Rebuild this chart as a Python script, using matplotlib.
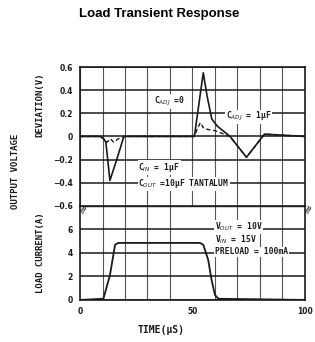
import matplotlib.pyplot as plt

# data
t_v = [0, 9, 10.5, 11.5, 13.3, 16, 19.5, 50.5, 51, 53, 54.8, 56.5, 58.6, 61, 66.7, 74, 82, 100]
v_cadj0 = [0, 0, -0.02, -0.05, -0.38, -0.22, 0, 0, 0.02, 0.3, 0.55, 0.35, 0.15, 0.09, 0.0, -0.18, 0.02, 0]

t_v1 = [0, 9, 10.5, 12, 13.5, 15, 17, 19.5, 51, 52, 53.5, 55, 57, 60, 66.7, 74, 82, 100]
v_cadj1 = [0, 0, -0.02, -0.05, -0.02, -0.05, -0.02, 0, 0, 0.06, 0.12, 0.07, 0.06, 0.05, 0.0, -0.18, 0.02, 0]

t_i = [0, 10.4, 13.3, 15.6, 17, 53.3, 54.8, 57, 58.5, 60, 61.5, 100]
i_load = [0, 0.1, 2.1, 4.7, 4.85, 4.85, 4.7, 3.4, 1.7, 0.43, 0.1, 0]

v_ticks = [-0.6, -0.4, -0.2, 0, 0.2, 0.4, 0.6]
v_ticklabels = ['\u22120.6', '\u22120.4', '\u22120.2', '0', '0.2', '0.4', '0.6']
i_ticks = [0, 2, 4, 6]
x_ticks = [0, 50, 100]

fig = plt.figure(figsize=(3.15, 3.42), dpi=100)
ax_v = fig.add_axes([0.254, 0.398, 0.714, 0.406])
ax_i = fig.add_axes([0.254, 0.123, 0.714, 0.275])

ink = '#1a1a1a'
mono = 'DejaVu Sans Mono'
for ax in (ax_v, ax_i):
    ax.set_xlim(0, 100)
    ax.tick_params(length=0, labelsize=5.5, colors=ink, pad=5)
    for s in ax.spines.values():
        s.set_color(ink)
        s.set_linewidth(1.2)
    ax.set_axisbelow(True)

# voltage deviation
ax_v.set_ylim(-0.6, 0.6)
ax_v.set_xticks(range(0, 101, 10))
ax_v.set_yticks(v_ticks)
ax_v.set_yticklabels(v_ticklabels, fontweight='bold')
ax_v.set_xticklabels([])
ax_v.grid(True, axis='x', color='#555555', lw=0.8)
ax_v.grid(True, axis='y', color=ink, lw=1.1)
ax_v.spines['bottom'].set_visible(False)
ax_v.plot(t_v, v_cadj0, color=ink, lw=1.2)
ax_v.plot(t_v1, v_cadj1, color=ink, lw=1.0, ls=(0, (3, 2)))

box = dict(facecolor='white', edgecolor='none', pad=0.5)
note = dict(fontsize=5.8, color=ink, bbox=box, va='center', family=mono, fontweight='bold')
ax_v.text(33, 0.3, 'C$_{ADJ}$ =0', **note)
ax_v.text(65, 0.17, 'C$_{ADJ}$ = 1\u03bcF', **note)
ax_v.text(26, -0.27, 'C$_{IN}$ = 1\u03bcF', **note)
ax_v.text(26, -0.41, 'C$_{OUT}$ =10\u03bcF TANTALUM', **note)

# load current
ax_i.set_ylim(0, 8)
ax_i.set_yticks(i_ticks)
ax_i.set_yticklabels([str(v) for v in i_ticks], fontweight='bold')
ax_i.set_xticks(x_ticks)
ax_i.set_xticklabels([str(v) for v in x_ticks], fontweight='bold')
ax_i.set_xticks(range(0, 101, 10), minor=True)
ax_i.tick_params(which='minor', length=0)
ax_i.grid(True, which='minor', axis='x', color='#555555', lw=0.8)
ax_i.grid(True, which='major', axis='y', color=ink, lw=1.1)
ax_i.spines['top'].set_linewidth(1.0)
ax_i.plot(t_i, i_load, color=ink, lw=1.3)
ax_i.text(60, 6.2, 'V$_{OUT}$ = 10V', **note)
ax_i.text(60, 5.1, 'V$_{IN}$ = 15V', **note)
ax_i.text(60, 4.1, 'PRELOAD = 100mA', **note)

# axis break marks
for xa in (0.0, 1.0):
    ax_i.text(xa + 0.015, 0.97, '\u2248', transform=ax_i.transAxes, rotation=65,
              fontsize=9, color=ink, ha='center', va='center')

fig.text(0.505, 0.96, 'Load Transient Response', ha='center', va='center',
         fontsize=9.5, fontweight='bold', family='Liberation Sans')
lab = dict(rotation=90, ha='center', va='center', fontsize=6.5, color=ink,
           family=mono, fontweight='bold')
fig.text(0.048, 0.50, 'OUTPUT VOLTAGE', **lab)
fig.text(0.127, 0.695, 'DEVIATION(V)', **lab)
fig.text(0.127, 0.26, 'LOAD CURRENT(A)', **lab)
fig.text(0.51, 0.035, 'TIME(\u03bcS)', ha='center', va='center', fontsize=7,
         color=ink, family=mono, fontweight='bold')

fig.savefig('out.png', dpi=100)
